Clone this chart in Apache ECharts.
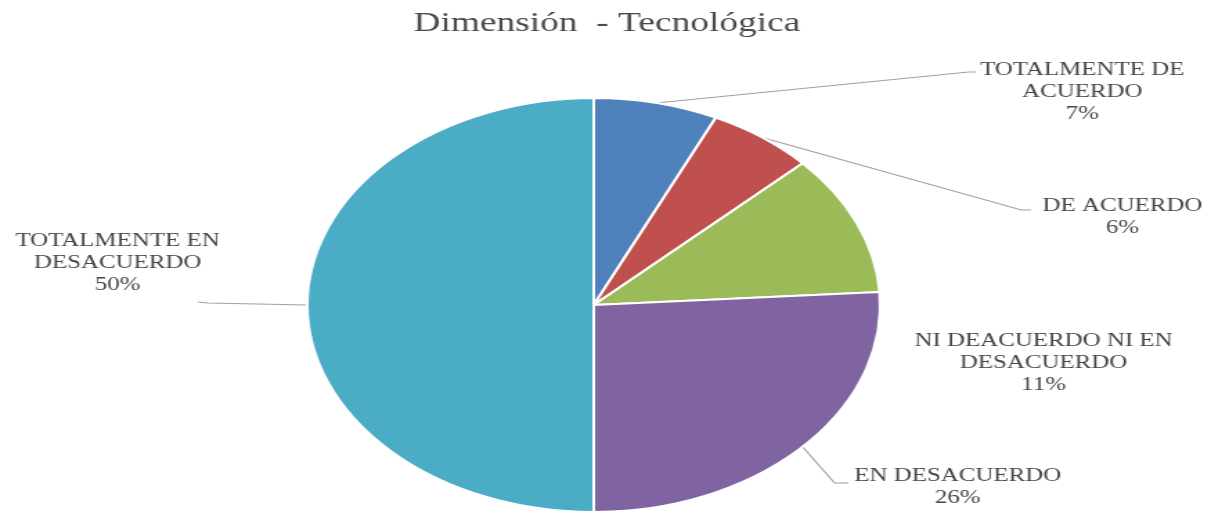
<!DOCTYPE html>
<html style="height: 100%">
<head>
<meta charset="utf-8">
<title>Dimensión - Tecnológica</title>
<script src="https://cdn.jsdelivr.net/npm/echarts@6/dist/echarts.min.js"></script>
</head>
<body style="height: 100%; margin: 0; overflow: hidden; background: #fff">
<!-- the reference is stretched sideways, so draw narrow and scale the div -->
<div id="container" style="width: 877px; height: 514px; transform: scaleX(1.384); transform-origin: 0 0"></div>
<script type="text/javascript">

// data
const categories = ['TOTALMENTE DE ACUERDO', 'DE ACUERDO', 'NI DEACUERDO NI EN DESACUERDO', 'EN DESACUERDO', 'TOTALMENTE EN DESACUERDO'];
const percents = [7, 6, 11, 26, 50];
const colors = ['#4F81BD', '#C0504D', '#9BBB59', '#8064A2', '#4BACC6'];

// where each label sits (unscaled px) and where its leader line ends
const labelPos = [[782, 92], [811, 217], [754, 363], [692, 487], [85, 263]];
const lineEnd = [[705, 72], [745, 210], null, [613, 483], [143, 302]];
const lineBend = [[700, 72], [738, 210], null, [603, 483], [150, 303]];

const serif = "'Liberation Serif', 'Times New Roman', 'DejaVu Serif', serif";

function wrapName(name) {
    // long names go on two lines, last word below
    if (name.length <= 15) return name;
    let i = name.lastIndexOf(' ');
    return name.slice(0, i) + '\n' + name.slice(i + 1);
}

let dom = document.getElementById('container');
let chart = echarts.init(dom);

chart.setOption({
    animation: false,
    color: colors,
    title: {
        text: 'Dimensión  - Tecnológica',
        left: 'center',
        top: 5,
        textStyle: {
            fontFamily: serif,
            fontWeight: 'normal',
            fontSize: 27,
            color: '#4a4a4a'
        }
    },
    series: [{
        type: 'pie',
        center: [429, 305],
        radius: 207,
        startAngle: 90,
        clockwise: true,
        itemStyle: { borderColor: '#fff', borderWidth: 2 },
        data: categories.map((c, i) => ({ name: c, value: percents[i] })),
        label: {
            show: true,
            formatter: p => wrapName(p.name) + '\n' + p.value + '%',
            fontFamily: serif,
            fontSize: 18,
            lineHeight: 22,
            color: '#454545',
            align: 'center'
        },
        labelLine: {
            show: true,
            lineStyle: { color: '#A0A0A0', width: 1.2 }
        },
        labelLayout: function (params) {
            let i = params.dataIndex;
            let res = {
                x: labelPos[i][0],
                y: labelPos[i][1],
                align: 'center',
                verticalAlign: 'middle'
            };
            let start = params.labelLinePoints ? params.labelLinePoints[0] : null;
            if (lineEnd[i] && start) {
                res.labelLinePoints = [start, lineBend[i], lineEnd[i]];
            } else {
                res.labelLinePoints = [[0, 0], [0, 0], [0, 0]];
            }
            return res;
        }
    }]
});

</script>
</body>
</html>
